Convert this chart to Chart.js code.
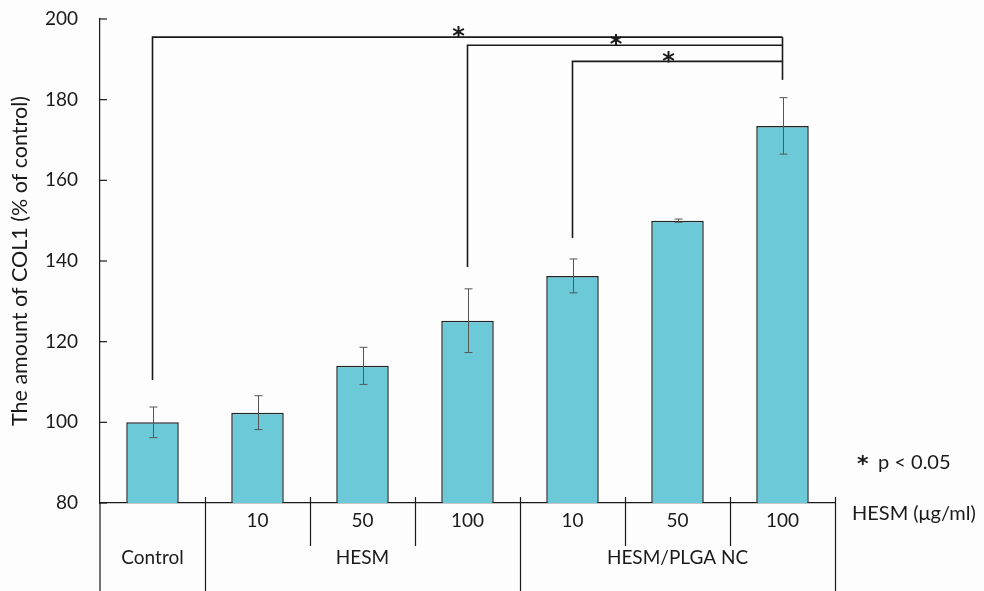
<!DOCTYPE html>
<html>
<head>
<meta charset="utf-8">
<script src="https://cdn.jsdelivr.net/npm/chart.js@4.4.1/dist/chart.umd.min.js"></script>
<style>
    body { margin: 0; background: #fdfdfd; }
    #wrap { width: 984px; height: 591px; position: relative; }
</style>
</head>
<body>
<div id="wrap"><canvas id="col1Chart"></canvas></div>
<script>
// Data
const categories = ['Control', 'HESM 10', 'HESM 50', 'HESM 100', 'NC 10', 'NC 50', 'NC 100'];
const doseLabels = ['', '10', '50', '100', '10', '50', '100'];
const groupLabels = ['Control', 'HESM', 'HESM/PLGA NC'];
const groupFrom = [0, 1, 4];
const groupTo = [0, 3, 6];
const col1Means = [100, 102.4, 114.0, 125.2, 136.3, 150.0, 173.5];
const col1Errors = [3.8, 4.2, 4.6, 7.9, 4.2, 0.4, 7.0];
const yTicks = [80, 100, 120, 140, 160, 180, 200];

// Significance brackets: start bar, end bar, height, where the start leg begins
const bracketFrom = [0, 3, 4];
const bracketTo = [6, 6, 6];
const bracketLevel = [195.5, 193.5, 189.5];
const bracketStart = [110.5, 138.5, 145.7];
const bracketEndDrop = 184.9;

const fontFamily = 'Lato, "Open Sans", sans-serif';
const inkColor = '#1a1a1a';

// Draws error bars, brackets, the split x axis and the side notes
const overlayPlugin = {
    id: 'overlay',
    afterDatasetsDraw(chart) {
        const ctx = chart.ctx;
        const xs = chart.scales.x;
        const ys = chart.scales.y;
        const area = chart.chartArea;

        ctx.save();

        // error bars
        ctx.strokeStyle = '#555';
        ctx.lineWidth = 1;
        col1Means.forEach((m, i) => {
            const px = Math.round(xs.getPixelForValue(i)) + 0.5;
            const top = ys.getPixelForValue(m + col1Errors[i]);
            const bot = ys.getPixelForValue(m - col1Errors[i]);
            ctx.beginPath();
            ctx.moveTo(px, top);
            ctx.lineTo(px, bot);
            ctx.moveTo(px - 4, top);
            ctx.lineTo(px + 4, top);
            ctx.moveTo(px - 4, bot);
            ctx.lineTo(px + 4, bot);
            ctx.stroke();
        });

        // inside tick marks on the y axis
        ctx.strokeStyle = inkColor;
        ctx.lineWidth = 1.2;
        yTicks.forEach((t) => {
            const py = ys.getPixelForValue(t);
            ctx.beginPath();
            ctx.moveTo(area.left, py);
            ctx.lineTo(area.left + 7, py);
            ctx.stroke();
        });

        // significance brackets
        ctx.lineWidth = 1.6;
        bracketFrom.forEach((from, k) => {
            const x1 = xs.getPixelForValue(from);
            const x2 = xs.getPixelForValue(bracketTo[k]);
            const yTop = ys.getPixelForValue(bracketLevel[k]);
            ctx.beginPath();
            ctx.moveTo(x1, ys.getPixelForValue(bracketStart[k]));
            ctx.lineTo(x1, yTop);
            ctx.lineTo(x2, yTop);
            ctx.stroke();

            ctx.fillStyle = inkColor;
            ctx.font = 'bold 24px "DejaVu Sans", sans-serif';
            ctx.textAlign = 'center';
            ctx.textBaseline = 'middle';
            ctx.fillText('*', (x1 + x2) / 2 - 9, yTop + 1);
        });
        const xEnd = xs.getPixelForValue(bracketTo[0]);
        ctx.beginPath();
        ctx.moveTo(xEnd, ys.getPixelForValue(bracketLevel[0]));
        ctx.lineTo(xEnd, ys.getPixelForValue(bracketEndDrop));
        ctx.stroke();

        // split x axis below the bars
        const yAxis = area.bottom;
        const boundary = (i) => {
            if (i < 0) return area.left;
            if (i >= categories.length - 1) return area.right;
            return (xs.getPixelForValue(i) + xs.getPixelForValue(i + 1)) / 2;
        };
        ctx.lineWidth = 1.2;
        ctx.beginPath();
        ctx.moveTo(area.left, yAxis);
        ctx.lineTo(area.left, chart.height);
        for (let i = 0; i < categories.length; i++) {
            const bx = Math.round(boundary(i)) + 0.5;
            const groupEnd = groupTo.includes(i);
            ctx.moveTo(bx, yAxis - 6);
            ctx.lineTo(bx, groupEnd ? chart.height : yAxis + 43);
        }
        ctx.stroke();

        ctx.fillStyle = inkColor;
        ctx.font = '19px ' + fontFamily;
        ctx.textAlign = 'center';
        ctx.textBaseline = 'middle';
        doseLabels.forEach((d, i) => {
            if (d) ctx.fillText(d, xs.getPixelForValue(i), yAxis + 18);
        });
        groupLabels.forEach((g, k) => {
            const cx = (xs.getPixelForValue(groupFrom[k]) + xs.getPixelForValue(groupTo[k])) / 2;
            ctx.fillText(g, cx, yAxis + 55);
        });

        ctx.textAlign = 'left';
        ctx.font = '20px ' + fontFamily;
        ctx.fillText('HESM (\u03bcg/ml)', area.right + 17, yAxis + 11);
        ctx.fillText('p < 0.05', area.right + 43, yAxis - 40);
        ctx.font = 'bold 22px "DejaVu Sans", sans-serif';
        ctx.fillText('*', area.right + 22, yAxis - 38);

        ctx.restore();
    }
};

const ctx = document.getElementById('col1Chart').getContext('2d');
new Chart(ctx, {
    type: 'bar',
    data: {
        labels: categories,
        datasets: [
            {
                data: col1Means,
                backgroundColor: '#6ccad8',
                borderColor: '#222',
                borderWidth: 1.5,
                borderSkipped: 'bottom',
                barPercentage: 0.5,
                categoryPercentage: 1.0,
            },
        ],
    },
    options: {
        responsive: true,
        maintainAspectRatio: false,
        animation: false,
        layout: { padding: { top: 19, right: 149, left: 0, bottom: 0 } },
        plugins: {
            legend: { display: false },
            tooltip: { enabled: false },
        },
        scales: {
            x: {
                grid: { display: false },
                border: { display: true, color: inkColor, width: 1.2 },
                ticks: { display: false },
                afterFit: (scale) => { scale.height = 88; },
            },
            y: {
                min: 80,
                max: 200,
                grid: { display: false, drawTicks: false },
                border: { display: true, color: inkColor, width: 1.2 },
                ticks: {
                    stepSize: 20,
                    padding: 22,
                    color: inkColor,
                    font: { family: fontFamily, size: 19 },
                },
                title: {
                    display: true,
                    text: 'The amount of COL1 (% of control)',
                    color: inkColor,
                    font: { family: fontFamily, size: 21.5 },
                    padding: { top: 7, bottom: 0 },
                },
                afterFit: (scale) => {
                    scale.width = 100;
                    scale.paddingTop = 0;
                    scale.paddingBottom = 0;
                },
            },
        },
    },
    plugins: [overlayPlugin],
});
</script>
</body>
</html>
